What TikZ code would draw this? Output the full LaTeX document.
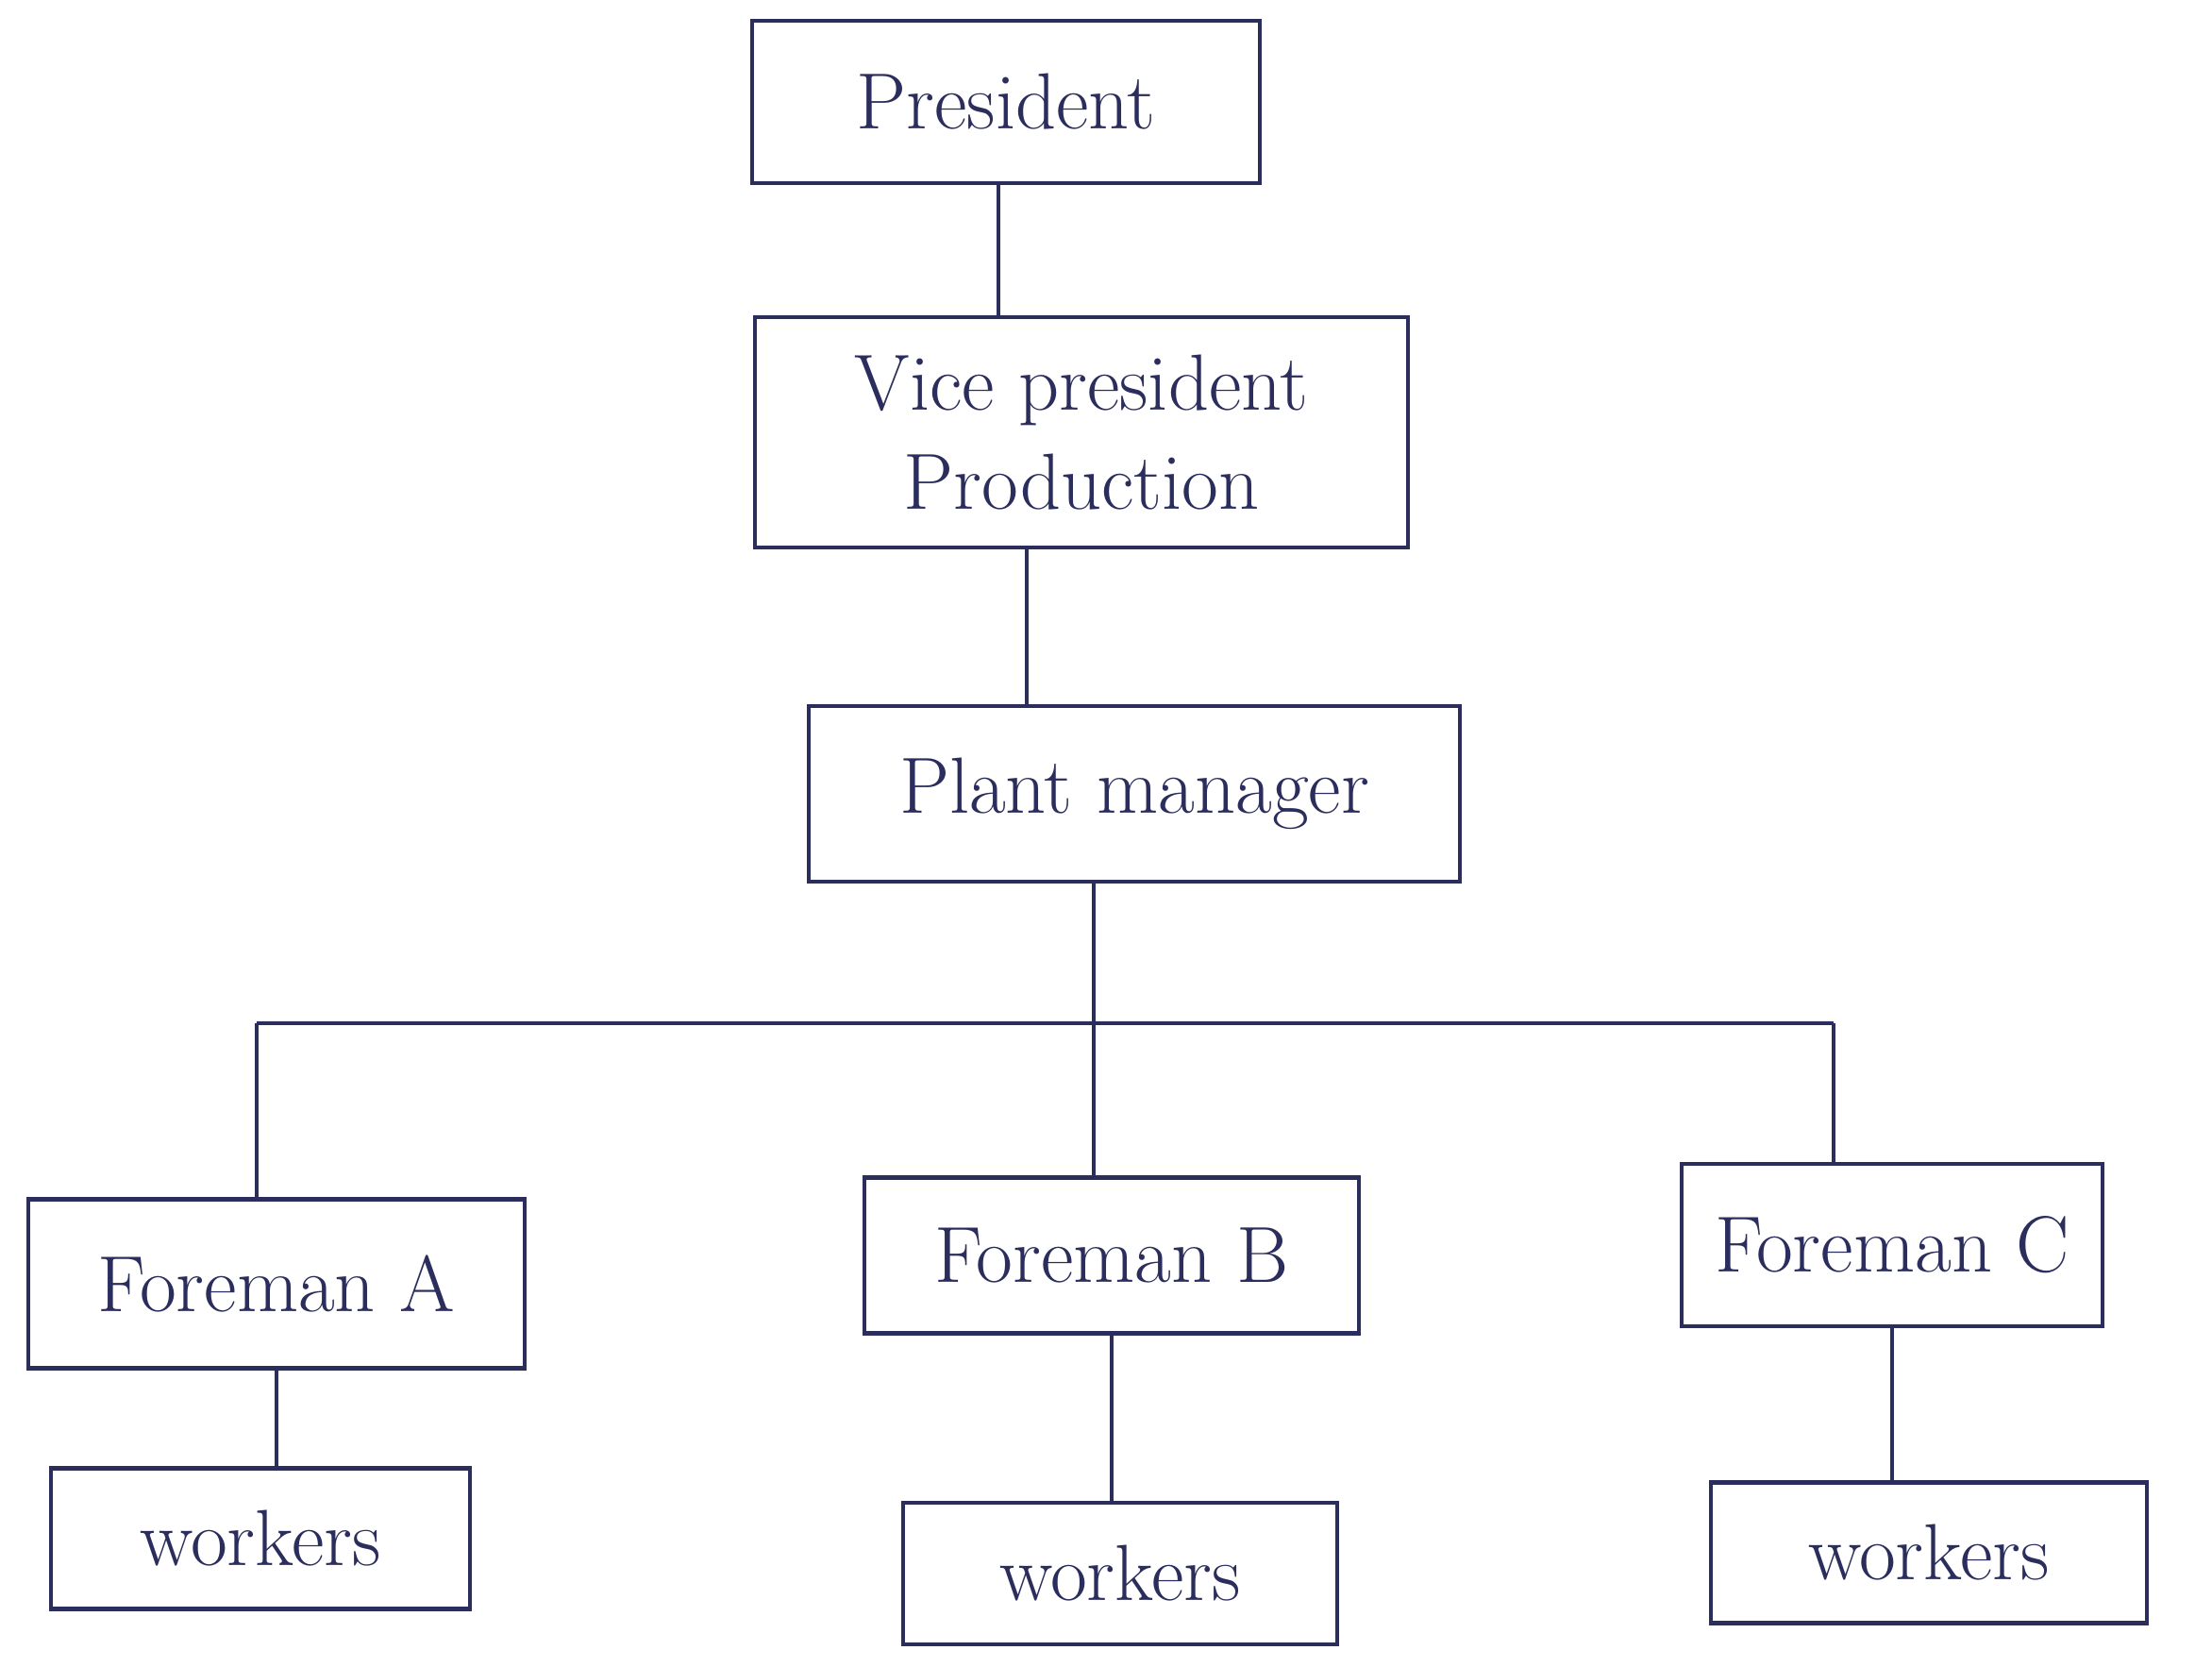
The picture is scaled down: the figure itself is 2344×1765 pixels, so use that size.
\documentclass[tikz,border=0pt]{standalone}
\usepackage{xcolor}
\definecolor{ink}{HTML}{2B2D5C}
\begin{document}
\begin{tikzpicture}[x=0.01cm,y=-0.01cm]

    \tikzset{box/.style = {shape=rectangle,draw=ink,line width=1.2pt,text=ink,inner sep=0pt,align=center,font=\fontsize{24}{30}\selectfont}}
    \tikzset{edge/.style = {draw=ink,line width=1.2pt}}
    \useasboundingbox (0,0) rectangle (2344,1765);
    \node[box,minimum width=5.38cm,minimum height=1.72cm] (P) at (1066,108) {President};
    \node[box,minimum width=6.92cm,minimum height=2.44cm] (V) at (1146,458) {Vice president\\Production};
    \node[box,minimum width=6.90cm,minimum height=1.86cm] (M) at (1202,841) {Plant manager};
    \node[box,minimum width=5.26cm,minimum height=1.79cm] (FA) at (293,1360) {Foreman A};
    \node[box,minimum width=5.24cm,minimum height=1.65cm] (FB) at (1178,1330) {Foreman B};
    \node[box,minimum width=4.46cm,minimum height=1.72cm] (FC) at (2005,1319) {Foreman C};
    \node[box,minimum width=4.43cm,minimum height=1.49cm] (WA) at (276,1630) {workers};
    \node[box,minimum width=4.60cm,minimum height=1.50cm] (WB) at (1187,1667) {workers};
    \node[box,minimum width=4.62cm,minimum height=1.49cm] (WC) at (2044,1645) {workers};
    \coordinate (a) at (272,1084);
    \coordinate (j) at (1159,1084);
    \coordinate (c) at (1943,1084);
    %edges
    \draw[edge] ([xshift=-0.08cm]P.south) to ([xshift=-0.08cm]P.south |- V.north);
    \draw[edge] ([xshift=-0.58cm]V.south) to ([xshift=-0.58cm]V.south |- M.north);
    \draw[edge] (M.south -| j) to (j);
    \draw[edge] (a) to (c);
    \draw[edge] (a) to (a |- FA.north);
    \draw[edge] (j) to (j |- FB.north);
    \draw[edge] (c) to (c |- FC.north);
    \draw[edge] (FA.south) to (FA.south |- WA.north);
    \draw[edge] (FB.south) to (FB.south |- WB.north);
    \draw[edge] (FC.south) to (FC.south |- WC.north);
    \end{tikzpicture}
\end{document}
